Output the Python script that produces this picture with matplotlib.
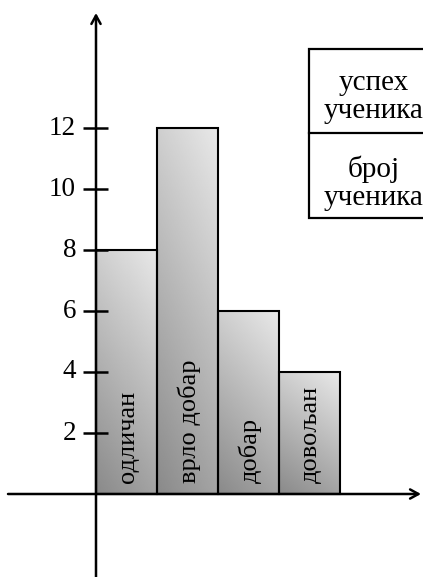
import numpy as np
import matplotlib
matplotlib.use("Agg")
import matplotlib.pyplot as plt
from matplotlib.patches import Rectangle

# ---- data ----
categories = ["одличан", "врло добар", "добар", "довољан"]
counts = [8, 12, 6, 4]
yticks = [2, 4, 6, 8, 10, 12]
legend_top = "успех\nученика"
legend_bottom = "број\nученика"

plt.rcParams['font.family'] = ['Liberation Serif', 'DejaVu Serif']

W, H = 423, 577
fig = plt.figure(figsize=(W / 100, H / 100), dpi=100)
ax = fig.add_axes([0, 0, 1, 1])
ax.set_axis_off()

# pixel layout -> data coordinates
X0_PX, Y0_PX = 96, 494      # origin in pixels
BAR_PX, UNIT_PX = 61, 30.5  # px per bar, px per count unit
def px_x(p):
    return (p - X0_PX) / BAR_PX
def px_y(p):
    return (Y0_PX - p) / UNIT_PX

ax.set_xlim(px_x(0), px_x(W))
ax.set_ylim(px_y(H), px_y(0))

# bars
xs = np.arange(len(categories))
bars = ax.bar(xs, counts, width=1.0, align='edge', facecolor='none',
              edgecolor='black', linewidth=1.5, zorder=3)

# gradient fill per bar
ny, nx = 200, 60
yy, xx = np.mgrid[0:1:ny * 1j, 0:1:nx * 1j]
grad = 0.54 + 0.27 * yy + 0.10 * xx
for b in bars:
    x0, w, h = b.get_x(), b.get_width(), b.get_height()
    im = ax.imshow(grad, cmap='gray', vmin=0, vmax=1, origin='lower',
                   extent=(x0, x0 + w, 0, h), aspect='auto', zorder=2,
                   interpolation='bilinear')
    clip = Rectangle((x0, 0), w, h, transform=ax.transData)
    im.set_clip_path(clip)

# bar labels (rotated, inside bars)
for x, lab in zip(xs, categories):
    ax.text(x + 0.53, px_y(483), lab, rotation=90, ha='center', va='bottom',
            fontsize=19, zorder=4)

# axes with arrows
arrow = dict(arrowstyle='->,head_length=0.6,head_width=0.33', lw=1.8,
             color='black', shrinkA=0, shrinkB=0)
ax.annotate('', xy=(0, px_y(13)), xytext=(0, px_y(H)), arrowprops=arrow, zorder=5)
ax.annotate('', xy=(px_x(421), 0), xytext=(px_x(8), 0), arrowprops=arrow, zorder=5)

# ticks
for t in yticks:
    ax.plot([px_x(83), px_x(108)], [t, t], color='black', lw=1.8, zorder=5,
            solid_capstyle='butt')
    ax.text(px_x(76), t, str(t), ha='right', va='center', fontsize=19.5)

# legend-like box
bx0, btop, bmid, bbot = px_x(309), px_y(49), px_y(133), px_y(218)
bx1 = px_x(W + 20)
ax.plot([bx1, bx0, bx0, bx1], [btop, btop, bbot, bbot], color='black',
        lw=1.6, clip_on=True, solid_joinstyle='miter')
ax.plot([bx0, bx1], [bmid, bmid], color='black', lw=1.6)
ax.text(px_x(374), px_y(97), legend_top, ha='center', va='center',
        fontsize=21, linespacing=1.12)
ax.text(px_x(374), px_y(183), legend_bottom, ha='center', va='center',
        fontsize=21, linespacing=1.12)

fig.savefig("out.png", dpi=100)
